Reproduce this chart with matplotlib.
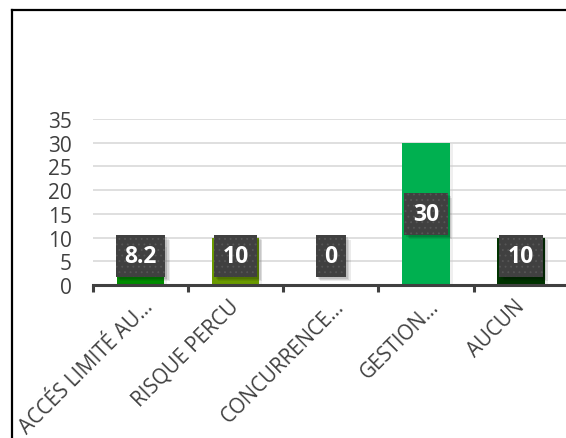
import matplotlib
matplotlib.use("Agg")
import matplotlib.pyplot as plt
from matplotlib import patheffects as pe
from matplotlib.lines import Line2D
from matplotlib.patches import Rectangle
from matplotlib.transforms import IdentityTransform, ScaledTranslation

categories = ["ACCÉS LIMITÉ AU…", "RISQUE PERCU", "CONCURRENCE…", "GESTION…", "AUCUN"]
values = [8.2, 10, 0, 30, 10]
bar_colors = ["#008c00", "#6a9a00", "#7f7f7f", "#00b050", "#003300"]
y_ticks = [0, 5, 10, 15, 20, 25, 30, 35]

plt.rcParams["font.family"] = ["Open Sans", "DejaVu Sans"]
plt.rcParams["hatch.linewidth"] = 0.6

fig = plt.figure(figsize=(5.66, 4.39), dpi=100)
ax = fig.add_axes([0.164, 0.3485, 0.841, 0.3782])

x = range(len(categories))
bars = ax.bar(x, values, width=0.5, color=bar_colors, zorder=3)
for b in bars:
    b.set_path_effects([pe.SimplePatchShadow(offset=(2, -1), shadow_rgbFace="#cccccc", alpha=0.3),
                        pe.Normal()])

ax.set_xlim(-0.5, len(categories) - 0.5)
ax.set_ylim(0, 35)
ax.set_yticks(y_ticks)
ax.set_yticklabels([str(v) for v in y_ticks], fontsize=15, color="#404040")
ax.tick_params(axis="y", length=0, pad=15)
ax.yaxis.grid(True, color="#d9d9d9", linewidth=1.2, zorder=0)
ax.set_axisbelow(True)

# category labels: text end sits under the category centre
ax.set_xticks(list(x))
ax.set_xticklabels(categories, rotation=45, rotation_mode="anchor",
                   ha="right", va="center", fontsize=14.8, color="#404040")
ax.tick_params(axis="x", which="major", length=0, pad=13)
for lbl in ax.get_xticklabels():
    if lbl.get_text().endswith("…"):
        lbl.set_transform(lbl.get_transform() + ScaledTranslation(0.1, 0, fig.dpi_scale_trans))
ax.set_xticks([i - 0.5 for i in range(len(categories) + 1)], minor=True)
ax.tick_params(axis="x", which="minor", length=5, width=2.2, color="#404040", direction="out")

for side in ("left", "right", "top"):
    ax.spines[side].set_visible(False)
ax.spines["bottom"].set_color("#404040")
ax.spines["bottom"].set_linewidth(2.2)
ax.spines["bottom"].set_zorder(4)

# value labels in dark dotted boxes
labels = []
for i, v in enumerate(values):
    yl = max(v / 2, 6.1)
    t = ax.text(i, yl, f"{v:g}", ha="center", va="center", fontsize=16.5,
                fontweight="bold", color="white", zorder=6,
                bbox=dict(boxstyle="square,pad=0.38", facecolor="#404040",
                          edgecolor="#565656", linewidth=0, hatch="..."))
    labels.append(t)

# soft drop shadow under each label box
fig.canvas.draw()
for t in labels:
    bb = t.get_bbox_patch().get_window_extent()
    for k, alpha in enumerate([0.10, 0.09, 0.08]):
        off = 2 + 1.3 * k
        ax.add_patch(Rectangle((bb.x0 + off, bb.y0 - off), bb.width, bb.height,
                               transform=IdentityTransform(), facecolor="black",
                               edgecolor="none", alpha=alpha, zorder=5))

# frame around the chart area
fig.add_artist(Line2D([0.021, 1.0], [0.975, 0.975], transform=fig.transFigure,
                      color="black", linewidth=1.6))
fig.add_artist(Line2D([0.021, 0.021], [0.975, 0.0], transform=fig.transFigure,
                      color="black", linewidth=1.6))

fig.savefig("out.png", dpi=100)
